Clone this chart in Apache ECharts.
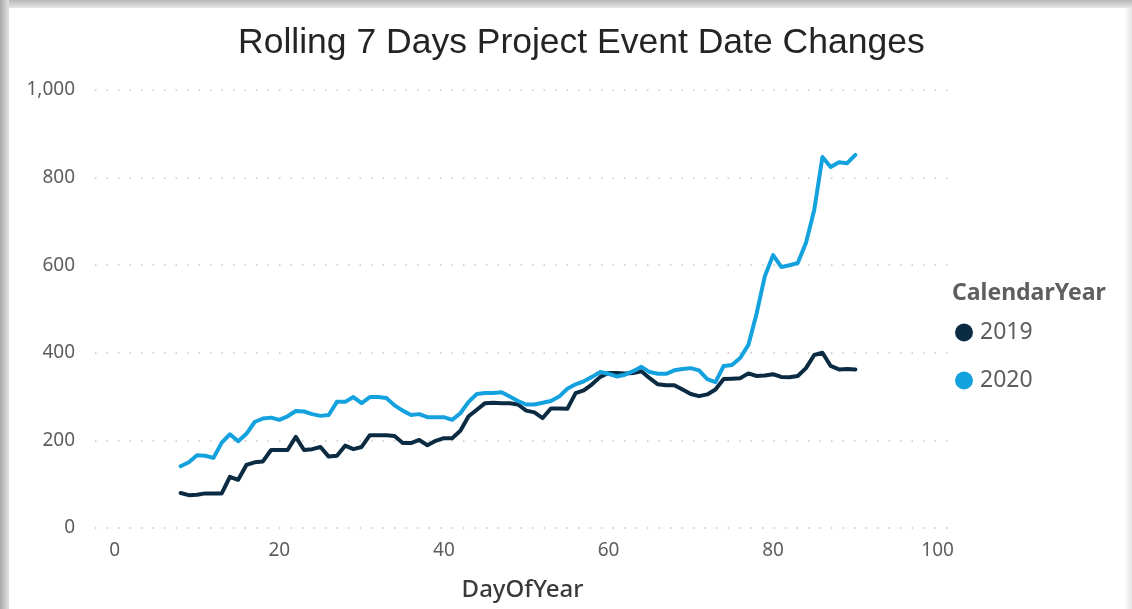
<!DOCTYPE html>
<html><head><meta charset="utf-8">
<script src="https://cdn.jsdelivr.net/npm/echarts@6/dist/echarts.min.js"></script>
<style>html,body{margin:0;padding:0;background:#fff}#c{width:1132px;height:609px}</style>
</head><body><div id="c"></div>
<script>
const titleText = 'Rolling 7 Days Project Event Date Changes';
const xAxisName = 'DayOfYear';
const legendTitle = 'CalendarYear';
const seriesNames = ['2019', '2020'];
const days = [8,9,10,11,12,13,14,15,16,17,18,19,20,21,22,23,24,25,26,27,28,29,30,31,32,33,34,35,36,37,38,39,40,41,42,43,44,45,46,47,48,49,50,51,52,53,54,55,56,57,58,59,60,61,62,63,64,65,66,67,68,69,70,71,72,73,74,75,76,77,78,79,80,81,82,83,84,85,86,87,88,89,90];
const values2019 = [80,75,76,79,79,79,117,110,144,150,152,178,178,178,208,178,180,185,163,165,188,180,185,212,212,212,210,194,194,201,189,199,205,205,222,255,270,285,286,285,285,282,268,264,251,273,273,272,308,314,328,345,354,354,353,354,358,342,328,326,326,316,306,301,305,316,340,341,342,353,347,348,351,345,344,347,365,395,400,370,362,363,362];
const values2020 = [141,150,166,165,160,195,214,198,215,242,250,252,247,255,267,266,260,256,258,288,288,299,285,299,299,297,280,268,258,260,253,253,253,247,262,288,306,308,308,310,300,290,282,282,286,290,300,318,328,335,345,356,352,346,350,358,368,356,352,352,360,363,365,360,340,333,370,372,388,418,490,575,623,596,600,605,651,726,847,824,835,833,852];
const xTicks = [0,20,40,60,80,100];

const colors = ['#0B2B42', '#14A2DF'];
const chart = echarts.init(document.getElementById('c'), null, {renderer:'canvas'});
const lblFont = '"Noto Sans", "Open Sans", sans-serif';
chart.setOption({
  backgroundColor: '#ffffff',
  animation: false,
  title: {
    text: titleText, left: 233, top: 20,
    textStyle: { fontFamily: '"Liberation Sans", Arial, sans-serif', fontSize: 35.5, fontWeight: 'normal', color: '#252423' }
  },
  graphic: [
    { type: 'rect', shape: { x: 0, y: 0, width: 1132, height: 8 }, style: { fill: new echarts.graphic.LinearGradient(0,0,0,1,[{offset:0,color:'#b8b8b8'},{offset:1,color:'#e6e6e6'}]) }, silent: true, z: 100 },
    { type: 'rect', shape: { x: 0, y: 0, width: 9, height: 609 }, style: { fill: new echarts.graphic.LinearGradient(0,0,1,0,[{offset:0,color:'#a8a8a8'},{offset:1,color:'#e2e2e2'}]) }, silent: true, z: 100 },
    { type: 'rect', shape: { x: 1124, y: 0, width: 8, height: 609 }, style: { fill: new echarts.graphic.LinearGradient(0,0,1,0,[{offset:0,color:'#ffffff'},{offset:1,color:'#e4e4e4'}]) }, silent: true, z: 99 },
    { type: 'text', left: 952, top: 282, style: { text: legendTitle, font: 'bold 23px "Noto Sans", sans-serif', fill: '#605e5c' } }
  ],
  legend: {
    data: seriesNames, orient: 'vertical', left: 950, top: 316, itemGap: 25,
    icon: 'circle', itemWidth: 18, itemHeight: 18,
    textStyle: { fontFamily: lblFont, fontSize: 23, color: '#605e5c', padding: [0,0,0,2] }
  },
  grid: { left: 95, right: 182, top: 90, bottom: 81, containLabel: false },
  xAxis: {
    type: 'value', min: -2.4, max: 101.5,
    name: xAxisName, nameLocation: 'middle', nameGap: 50,
    nameTextStyle: { fontFamily: lblFont, fontSize: 24, color: '#3b3a39', fontWeight: 500 },
    axisLine: { show: false }, axisTick: { show: false }, splitLine: { show: false },
    axisLabel: { customValues: xTicks, fontFamily: lblFont, fontSize: 19, color: '#605e5c', margin: 13 }
  },
  yAxis: {
    type: 'value', min: 0, max: 1000, interval: 200,
    axisLine: { show: false }, axisTick: { show: false },
    axisLabel: { fontFamily: lblFont, fontSize: 19, color: '#605e5c', margin: 20,
      formatter: v => v.toLocaleString('en-US') },
    splitLine: { lineStyle: { color: '#c8c6c4', width: 1.5, type: [1.5, 10] } }
  },
  series: [
    { name: seriesNames[0], type: 'line', data: days.map((d,i)=>[d, values2019[i]]), showSymbol: false, symbol: 'circle', color: colors[0], lineStyle: { width: 4, cap: 'round', join: 'round' } },
    { name: seriesNames[1], type: 'line', data: days.map((d,i)=>[d, values2020[i]]), showSymbol: false, symbol: 'circle', color: colors[1], lineStyle: { width: 4, cap: 'round', join: 'round' } }
  ]
});
</script></body></html>
